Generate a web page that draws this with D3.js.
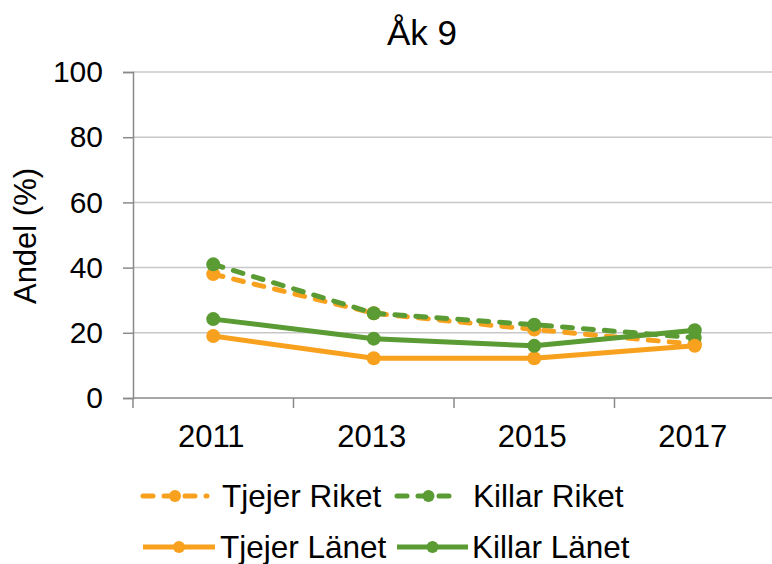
<!DOCTYPE html>
<html><head><meta charset="utf-8">
<script src="https://cdn.jsdelivr.net/npm/d3@7"></script>
<style>body{margin:0;background:#fff}svg{display:block;font-family:"Liberation Sans",Arial,sans-serif}</style>
</head><body>
<svg id="c" width="772" height="564"></svg>
<script>
const title = "Åk 9";
const yLabel = "Andel (%)";
const years = ["2011","2013","2015","2017"];
const yTicks = [0,20,40,60,80,100];
const tjejerRiket = [38,26,21,16.5];
const killarRiket = [41,26,22.5,18.5];
const tjejerLanet = [19,12.2,12.2,16];
const killarLanet = [24.2,18.2,16,20.8];
const seriesNames = ["Tjejer Riket","Killar Riket","Tjejer Länet","Killar Länet"];

const orange = "#F8A11E", green = "#5A9B34";
const series = [
  {name:seriesNames[0], values:tjejerRiket, color:orange, dashed:true},
  {name:seriesNames[1], values:killarRiket, color:green, dashed:true},
  {name:seriesNames[2], values:tjejerLanet, color:orange, dashed:false},
  {name:seriesNames[3], values:killarLanet, color:green, dashed:false}
];

const svg = d3.select("#c");
const x = d3.scaleBand().domain(years).range([133,775]).padding(0);
const y = d3.scaleLinear().domain([0,100]).range([398,72]);
const cx = d => x(d) + x.bandwidth()/2;

// gridlines
svg.append("g").selectAll("line").data(yTicks.filter(t=>t>0)).join("line")
  .attr("x1",133).attr("x2",775).attr("y1",d=>y(d)).attr("y2",d=>y(d))
  .attr("stroke","#C8C8C8").attr("stroke-width",1.5);

// y axis
const yAxis = svg.append("g").attr("transform","translate(133,0)")
  .call(d3.axisLeft(y).tickValues(yTicks).tickSize(10).tickPadding(20));
yAxis.select(".domain").attr("stroke","#8A8A8A").attr("stroke-width",1.5);
yAxis.selectAll(".tick line").attr("stroke","#8A8A8A").attr("stroke-width",1.5);
yAxis.selectAll(".tick text").attr("font-size",30).attr("fill","#000")
  .attr("font-family","Liberation Sans, Arial, sans-serif");

// x axis
const xg = svg.append("g");
xg.append("line").attr("x1",133).attr("x2",775).attr("y1",398).attr("y2",398)
  .attr("stroke","#8A8A8A").attr("stroke-width",1.5);
xg.selectAll("line.t").data(years.map(d=>x(d)).concat([775])).join("line").attr("class","t")
  .attr("x1",d=>d).attr("x2",d=>d).attr("y1",398).attr("y2",408)
  .attr("stroke","#8A8A8A").attr("stroke-width",1.5);
xg.selectAll("text").data(years).join("text")
  .attr("x",d=>cx(d)-2).attr("y",447).attr("text-anchor","middle")
  .attr("font-size",31).text(d=>d);

// title
svg.append("text").attr("x",422).attr("y",45).attr("text-anchor","middle")
  .attr("font-size",35).text(title);
// y label
svg.append("text").attr("transform","translate(36,236) rotate(-90)")
  .attr("text-anchor","middle").attr("font-size",31).text(yLabel);

// lines
const line = d3.line().x((d,i)=>cx(years[i])).y(d=>y(d));
series.forEach(s=>{
  const g = svg.append("g");
  g.append("path").attr("d",line(s.values)).attr("fill","none")
    .attr("stroke",s.color).attr("stroke-width",5)
    .attr("stroke-linecap", s.dashed ? "round":"butt")
    .attr("stroke-linejoin","round")
    .attr("stroke-dasharray", s.dashed ? "10 11" : null);
  g.selectAll("circle").data(s.values).join("circle")
    .attr("cx",(d,i)=>cx(years[i])).attr("cy",d=>y(d)).attr("r",7)
    .attr("fill",s.color);
});

// legend
const legendItems = [
  {s:series[0], x1:143, x2:207, tx:222, y:496},
  {s:series[1], x1:397, x2:460, tx:473, y:496},
  {s:series[2], x1:143, x2:215, tx:220, y:547},
  {s:series[3], x1:397, x2:468, tx:472, y:547}
];
const lg = svg.append("g");
legendItems.forEach(it=>{
  lg.append("line").attr("x1",it.x1).attr("x2",it.x2).attr("y1",it.y).attr("y2",it.y)
    .attr("stroke",it.s.color).attr("stroke-width",5)
    .attr("stroke-linecap", it.s.dashed ? "round":"butt")
    .attr("stroke-dasharray", it.s.dashed ? "10 11" : null);
  lg.append("circle").attr("cx",(it.x1+it.x2)/2).attr("cy",it.y).attr("r",6)
    .attr("fill",it.s.color);
  lg.append("text").attr("x",it.tx).attr("y",it.y+11).attr("font-size",31.5).text(it.s.name);
});
</script>
</body></html>
